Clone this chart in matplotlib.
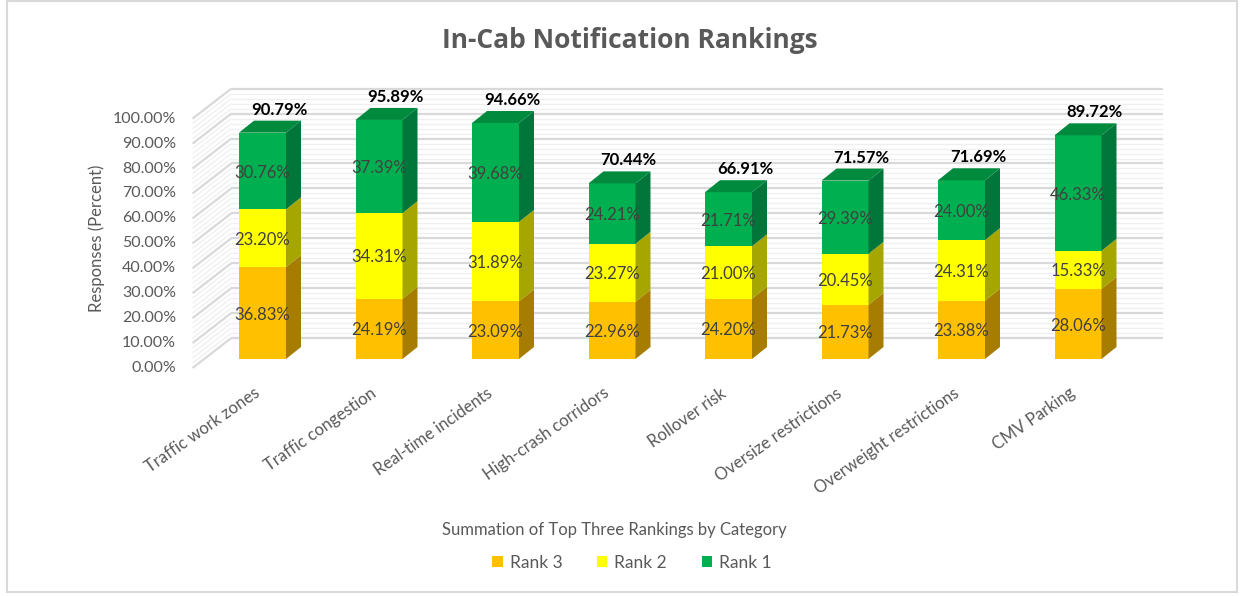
import matplotlib
matplotlib.use("Agg")
import matplotlib.pyplot as plt
from matplotlib.patches import Polygon, Rectangle
import numpy as np

categories = ["Traffic work zones", "Traffic congestion", "Real-time incidents",
              "High-crash corridors", "Rollover risk", "Oversize restrictions",
              "Overweight restrictions", "CMV Parking"]
rank3 = [36.83, 24.19, 23.09, 22.96, 24.20, 21.73, 23.38, 28.06]
rank2 = [23.20, 34.31, 31.89, 23.27, 21.00, 20.45, 24.31, 15.33]
rank1 = [30.76, 37.39, 39.68, 24.21, 21.71, 29.39, 24.00, 46.33]
totals = [90.79, 95.89, 94.66, 70.44, 66.91, 71.57, 71.69, 89.72]
series_names = ["Rank 3", "Rank 2", "Rank 1"]
yticks = list(range(0, 101, 10))

title = "In-Cab Notification Rankings"
xlabel = "Summation of Top Three Rankings by Category"
ylabel = "Responses (Percent)"

front_colors = ["#FFC000", "#FFFF00", "#00B050"]
side_colors = ["#A67D00", "#A6A600", "#00763A"]
top_colors = ["#CC9A00", "#CCCC00", "#008A3E"]

FONT = ["Lato", "DejaVu Sans"]
plt.rcParams["font.family"] = FONT

W, H = 1241, 596
fig = plt.figure(figsize=(W / 100, H / 100), dpi=100)

# axes representing the plane in which the bar fronts stand
ax_left, ax_right = 204.25, 1136.25
ax_bot_from_top, ax_top_from_top = 359.0, 109.7
ax = fig.add_axes([ax_left / W, (H - ax_bot_from_top) / H,
                   (ax_right - ax_left) / W, (ax_bot_from_top - ax_top_from_top) / H])
ax.set_xlim(-0.5, len(categories) - 0.5)
ax.set_ylim(0, 100)
ax.axis("off")

ppx = (ax_right - ax_left) / (len(categories))      # pixels per category unit
ppy = (ax_bot_from_top - ax_top_from_top) / 100.0    # pixels per percent


def dx(px):
    return px / ppx


def dy(px):
    return px / ppy


x0, x1 = ax.get_xlim()
# back wall (offset up/right) and left side wall
back_dx, back_dy = 27, 21
front_dx, front_dy = -11.7, -9
for v in np.arange(0, 101, 2):
    major = (v % 10 == 0)
    col = "#D9D9D9" if major else "#EFEFEF"
    lw = 1.6 if major else 0.9
    ax.plot([x0 + dx(back_dx), x1 + dx(back_dx)], [v + dy(back_dy), v + dy(back_dy)],
            color=col, lw=lw, zorder=1, clip_on=False, solid_capstyle="butt")
    ax.plot([x0 + dx(front_dx), x0 + dx(back_dx)], [v + dy(front_dy), v + dy(back_dy)],
            color=col, lw=lw, zorder=1, clip_on=False, solid_capstyle="butt")

# bars
x = np.arange(len(categories))
bw = 47 / ppx
ddx, ddy = dx(15), dy(12)
series = [rank3, rank2, rank1]
bottom = np.zeros(len(categories))
for s, vals in enumerate(series):
    vals = np.array(vals)
    ax.bar(x, vals, bottom=bottom, width=bw, color=front_colors[s], zorder=3,
           linewidth=0, clip_on=False)
    for i in range(len(categories)):
        b, t = bottom[i], bottom[i] + vals[i]
        xr = x[i] + bw / 2
        side = Polygon([(xr, b), (xr + ddx, b + ddy), (xr + ddx, t + ddy), (xr, t)],
                       closed=True, facecolor=side_colors[s], edgecolor="none",
                       zorder=3, clip_on=False)
        ax.add_patch(side)
        if s == len(series) - 1:
            xl = x[i] - bw / 2
            top = Polygon([(xl, t), (xr, t), (xr + ddx, t + ddy), (xl + ddx, t + ddy)],
                          closed=True, facecolor=top_colors[s], edgecolor="none",
                          zorder=3, clip_on=False)
            ax.add_patch(top)
        ax.text(x[i], b + vals[i] / 2 - dy(1.5), f"{vals[i]:.2f}%", ha="center", va="center",
                fontsize=12, color="#404040", zorder=5, clip_on=False)
    bottom = bottom + vals

# totals
for i, tv in enumerate(totals):
    ax.text(x[i] + dx(16.5), tv + dy(23), f"{tv:.2f}%", ha="center", va="center",
            fontsize=12, fontweight="bold", color="#000000", zorder=5, clip_on=False)

# y tick labels (on the front plane)
for v in yticks:
    ax.text(x0 + dx(176 - ax_left), v + dy(front_dy), f"{v:.2f}%", ha="right", va="center",
            fontsize=11.5, color="#595959", clip_on=False)

# category labels
for i, c in enumerate(categories):
    ax.text(x[i] - dx(9), dy(-26), c, rotation=35, rotation_mode="anchor",
            ha="right", va="top", fontsize=12, color="#595959", clip_on=False)

# titles
fig.text(630 / W, 1 - 40 / H, title, ha="center", va="center", fontsize=19,
         fontweight="bold", color="#595959", family=["Open Sans", "DejaVu Sans"])
fig.text(97 / W, 1 - 238 / H, ylabel, ha="center", va="center", rotation=90,
         fontsize=12, color="#595959")
fig.text(614 / W, 1 - 530 / H, xlabel, ha="center", va="center", fontsize=12,
         color="#595959")

# legend
handles = [Rectangle((0, 0), 1, 1, facecolor=c, edgecolor="none") for c in front_colors]
leg = fig.legend(handles, series_names, loc="center", bbox_to_anchor=(632 / W, 1 - 563 / H),
                 ncol=3, frameon=False, fontsize=12.5, handlelength=0.6, handleheight=0.6,
                 handletextpad=0.4, columnspacing=2.0, labelcolor="#595959")

# chart border
fig.patches.append(Rectangle((7 / W, 4 / H), 1230 / W, 591 / H, transform=fig.transFigure,
                             fill=False, edgecolor="#D9D9D9", linewidth=1.5))

fig.savefig("out.png", dpi=100, facecolor="white")
